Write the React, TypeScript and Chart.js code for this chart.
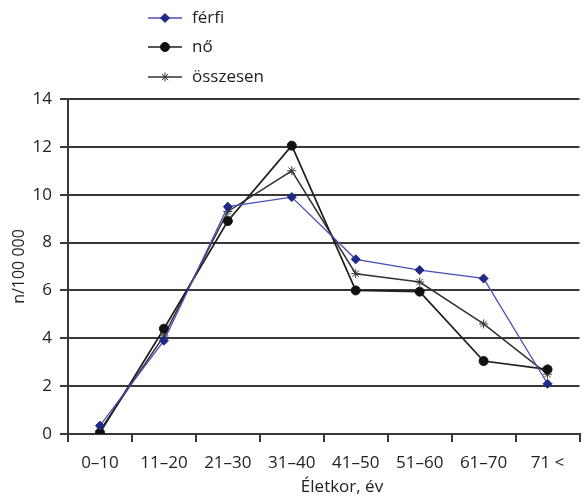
import React, { useEffect, useRef } from "react";
import { Chart, registerables } from "chart.js";

Chart.register(...registerables);

const ageGroups = ["0–10", "11–20", "21–30", "31–40", "41–50", "51–60", "61–70", "71 <"];
const ferfi = [0.35, 3.9, 9.5, 9.9, 7.3, 6.85, 6.5, 2.1];
const no = [0.05, 4.4, 8.9, 12.05, 6.0, 5.95, 3.05, 2.7];
const osszesen = [0.15, 4.1, 9.3, 11.0, 6.7, 6.35, 4.6, 2.5];
const seriesNames = ["férfi", "nő", "összesen"];
const yTitle = "n/100 000";
const xTitle = "Életkor, év";

const FONT = "'Open Sans', 'DejaVu Sans', sans-serif";
const TEXT = "#222222";
const GRID = "#383838";

function drawMarker(ctx: CanvasRenderingContext2D, style: string, r: number, x: number, y: number) {
  ctx.beginPath();
  if (style === "circle") {
    ctx.arc(x, y, r, 0, Math.PI * 2);
    ctx.fill();
    ctx.stroke();
  } else if (style === "rectRot") {
    ctx.moveTo(x, y - r);
    ctx.lineTo(x + r, y);
    ctx.lineTo(x, y + r);
    ctx.lineTo(x - r, y);
    ctx.closePath();
    ctx.fill();
    ctx.stroke();
  } else {
    const d = r * 0.7;
    ctx.moveTo(x - d, y - d);
    ctx.lineTo(x + d, y + d);
    ctx.moveTo(x - d, y + d);
    ctx.lineTo(x + d, y - d);
    ctx.moveTo(x, y - r);
    ctx.lineTo(x, y + r);
    ctx.stroke();
  }
}

// Vertical legend (line + marker + label) and the x-axis caption
const sideLegend = {
  id: "sideLegend",
  afterDraw(chart: Chart) {
    const ctx = chart.ctx;
    ctx.save();
    const rows = [18, 47, 77];
    chart.data.datasets.forEach((ds: any, i: number) => {
      const y = rows[i];
      ctx.strokeStyle = ds.borderColor;
      ctx.lineWidth = ds.borderWidth;
      ctx.beginPath();
      ctx.moveTo(148, y);
      ctx.lineTo(182, y);
      ctx.stroke();
      ctx.fillStyle = ds.pointBackgroundColor;
      ctx.strokeStyle = ds.pointBorderColor;
      ctx.lineWidth = ds.pointBorderWidth;
      drawMarker(ctx, ds.pointStyle, ds.pointRadius, 165, y);
      ctx.fillStyle = TEXT;
      ctx.font = `17px ${FONT}`;
      ctx.textAlign = "left";
      ctx.textBaseline = "middle";
      ctx.fillText(ds.label, 192, y);
    });
    ctx.font = `17px ${FONT}`;
    ctx.fillStyle = TEXT;
    ctx.textAlign = "center";
    ctx.textBaseline = "middle";
    ctx.fillText(xTitle, 342, 487);
    ctx.restore();
  },
};

export default function App() {
  const canvasRef = useRef<HTMLCanvasElement | null>(null);

  useEffect(() => {
    if (!canvasRef.current) return;
    const chart = new Chart(canvasRef.current, {
      type: "line",
      data: {
        labels: ageGroups,
        datasets: [
          {
            label: seriesNames[0],
            data: ferfi,
            borderColor: "#4a4fb8",
            borderWidth: 1.3,
            pointStyle: "rectRot",
            pointRadius: 4.5,
            pointBackgroundColor: "#1d2a86",
            pointBorderColor: "#1d2a86",
            pointBorderWidth: 1,
            tension: 0,
          },
          {
            label: seriesNames[1],
            data: no,
            borderColor: "#1e1e1e",
            borderWidth: 1.7,
            pointStyle: "circle",
            pointRadius: 4.5,
            pointBackgroundColor: "#111111",
            pointBorderColor: "#111111",
            pointBorderWidth: 1,
            tension: 0,
          },
          {
            label: seriesNames[2],
            data: osszesen,
            borderColor: "#333333",
            borderWidth: 1.5,
            pointStyle: "star",
            pointRadius: 4.5,
            pointBackgroundColor: "#333333",
            pointBorderColor: "#333333",
            pointBorderWidth: 1,
            tension: 0,
          },
        ],
      },
      options: {
        animation: false,
        responsive: false,
        maintainAspectRatio: false,
        layout: { padding: { top: 99, left: 0, right: 0, bottom: 0 } },
        plugins: {
          legend: { display: false },
          tooltip: { enabled: false },
        },
        scales: {
          x: {
            offset: true,
            afterFit: (s: any) => {
              s.height = 64;
            },
            grid: {
              display: true,
              offset: true,
              drawOnChartArea: false,
              drawTicks: true,
              tickLength: 8,
              color: GRID,
              lineWidth: 2,
            },
            border: { display: true, color: GRID, width: 2 },
            ticks: {
              font: { family: FONT, size: 17 },
              color: TEXT,
              padding: 11,
              maxRotation: 0,
              autoSkip: false,
            },
          },
          y: {
            min: 0,
            max: 14,
            afterFit: (s: any) => {
              s.width = 68;
            },
            grid: {
              color: GRID,
              lineWidth: 2,
              drawTicks: true,
              tickLength: 8,
            },
            border: { display: true, color: GRID, width: 2 },
            ticks: {
              stepSize: 2,
              font: { family: FONT, size: 17 },
              color: TEXT,
              padding: 8,
            },
            title: {
              display: true,
              text: yTitle,
              font: { family: FONT, size: 16 },
              color: TEXT,
              padding: { top: 10, bottom: 0 },
            },
          },
        },
      },
      plugins: [sideLegend],
    });
    return () => chart.destroy();
  }, []);

  return (
    <div
      style={{
        position: "fixed",
        left: 0,
        top: 0,
        width: 585,
        height: 498,
        overflow: "hidden",
        background: "#ffffff",
      }}
    >
      <canvas ref={canvasRef} width={585} height={498} style={{ width: 585, height: 498 }} />
    </div>
  );
}
